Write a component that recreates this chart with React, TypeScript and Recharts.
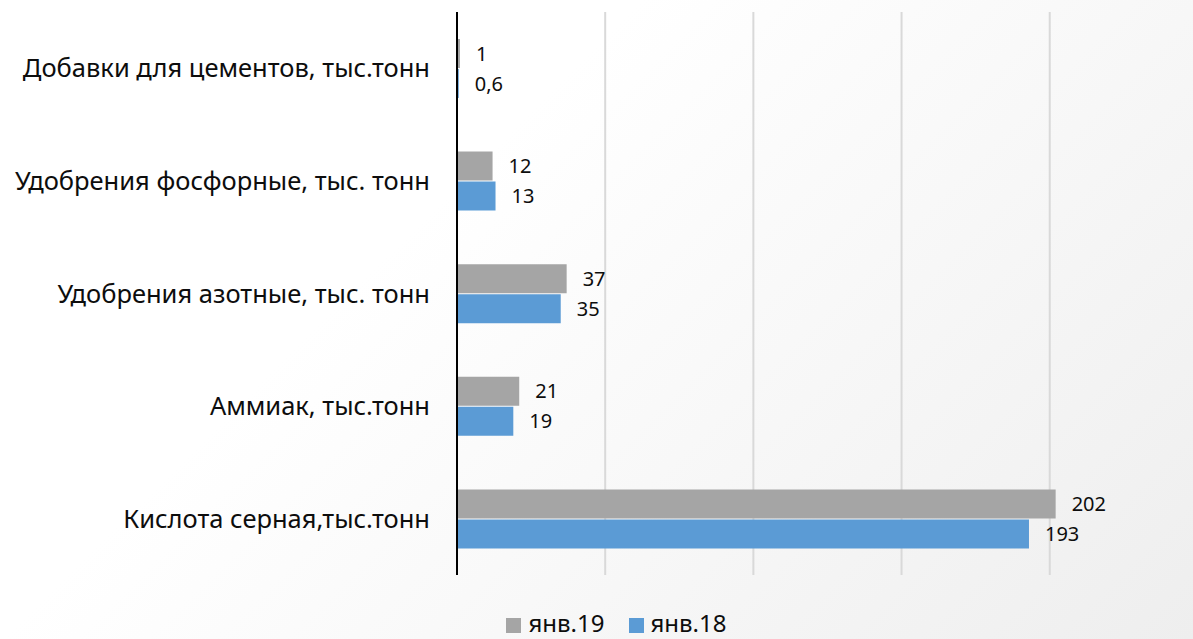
import { Bar, BarChart, CartesianGrid, LabelList, XAxis, YAxis } from "recharts";

const categories = [
  "Добавки для цементов, тыс.тонн",
  "Удобрения фосфорные, тыс. тонн",
  "Удобрения азотные, тыс. тонн",
  "Аммиак, тыс.тонн",
  "Кислота серная,тыс.тонн",
];
const jan19 = [1, 12, 37, 21, 202];
const jan18 = [0.6, 13, 35, 19, 193];
const gridValues = [50, 100, 150, 200];

const seriesNames = { jan19: "янв.19", jan18: "янв.18" };
const colors = { jan19: "#A5A5A5", jan18: "#5B9BD5" };

const data = categories.map((name, i) => ({
  name,
  jan19: jan19[i],
  jan18: jan18[i],
}));

const font = "'Noto Sans', 'Open Sans', sans-serif";
const fmt = (v: any) => String(v).replace(".", ",");

export default function App() {
  return (
    <div
      style={{
        position: "absolute",
        left: 0,
        top: 0,
        width: 1193,
        height: 639,
        overflow: "hidden",
        background: "linear-gradient(135deg, #ffffff 35%, #eeeeee 100%)",
        fontFamily: font,
      }}
    >
      <BarChart
        width={1193}
        height={600}
        data={data}
        layout="vertical"
        margin={{ top: 12, right: 84, bottom: 25, left: 0 }}
        barSize={29}
        barGap={1}
      >
        <CartesianGrid
          horizontal={false}
          verticalValues={gridValues}
          stroke="#d9d9d9"
          strokeWidth={2}
        />
        <XAxis type="number" domain={[0, 220]} hide />
        <YAxis
          type="category"
          dataKey="name"
          width={457}
          tickLine={false}
          tickSize={0}
          tickMargin={27}
          axisLine={{ stroke: "#000", strokeWidth: 2 }}
          tick={{ fontSize: 25.5, fill: "#0d0d0d", fontFamily: font }}
        />
        <Bar dataKey="jan19" fill={colors.jan19} isAnimationActive={false}>
          <LabelList
            dataKey="jan19"
            position="right"
            offset={16}
            formatter={fmt}
            style={{ fontSize: 20, fill: "#0d0d0d", fontFamily: font }}
          />
        </Bar>
        <Bar dataKey="jan18" fill={colors.jan18} isAnimationActive={false}>
          <LabelList
            dataKey="jan18"
            position="right"
            offset={16}
            formatter={fmt}
            style={{ fontSize: 20, fill: "#0d0d0d", fontFamily: font }}
          />
        </Bar>
      </BarChart>
      <div
        style={{
          position: "absolute",
          top: 610,
          left: 0,
          width: 1193,
          display: "flex",
          justifyContent: "center",
          gap: 24,
          fontSize: 24,
          lineHeight: "26px",
          color: "#0d0d0d",
          paddingLeft: 40,
          boxSizing: "border-box",
        }}
      >
        {(["jan19", "jan18"] as const).map((k) => (
          <div key={k} style={{ display: "flex", alignItems: "center", gap: 7 }}>
            <span style={{ width: 15, height: 15, background: colors[k], display: "inline-block", marginTop: 4 }} />
            <span>{seriesNames[k]}</span>
          </div>
        ))}
      </div>
    </div>
  );
}
